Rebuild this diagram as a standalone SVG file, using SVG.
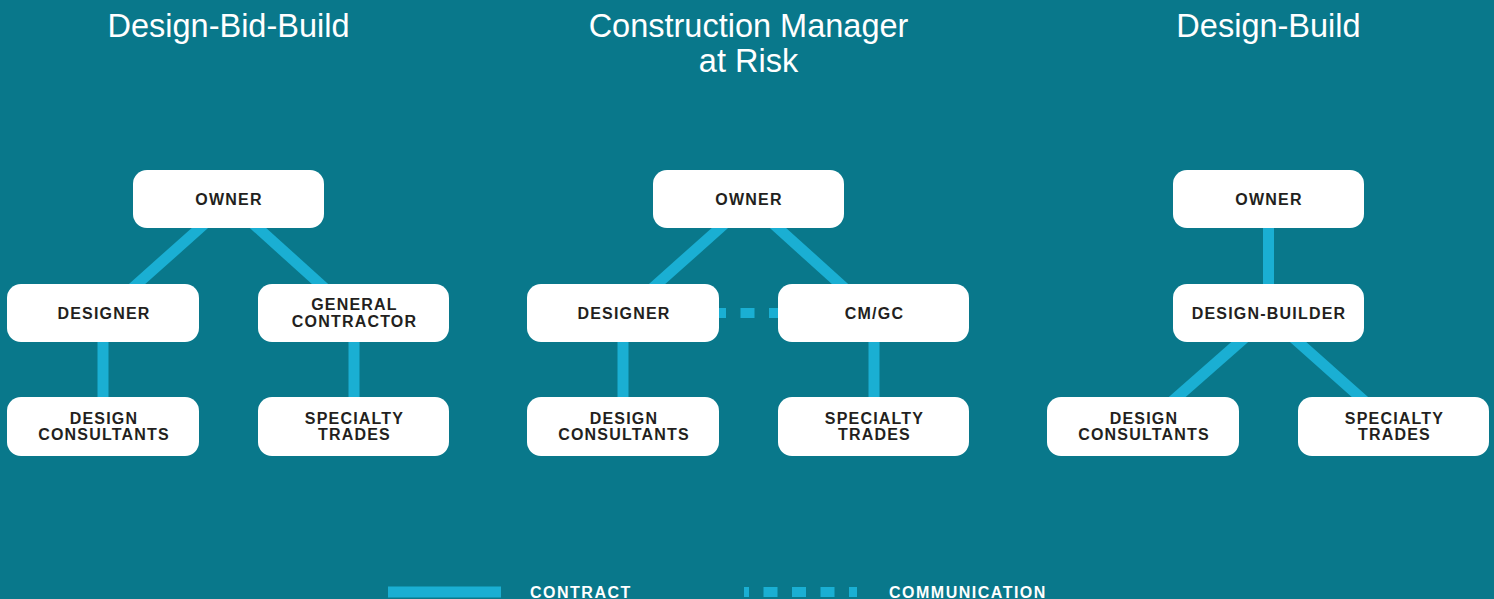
<svg xmlns="http://www.w3.org/2000/svg" width="1494" height="599" viewBox="0 0 1494 599">
<defs>
<style>
.bg{fill:#09788b}
.box{fill:#ffffff}
.lbl{font-family:"Liberation Sans",Arial,sans-serif;font-weight:bold;font-size:16px;letter-spacing:1.2px;fill:#231f20;text-anchor:middle}
.title{font-family:"Liberation Sans",Arial,sans-serif;font-size:32.5px;fill:#ffffff;text-anchor:middle}
.leg{font-family:"Liberation Sans",Arial,sans-serif;font-weight:bold;font-size:16px;letter-spacing:1.5px;fill:#ffffff}
.con{stroke:#1aafd3;stroke-width:11;fill:none}
.com{stroke:#1aafd3;stroke-width:10;fill:none;stroke-dasharray:14 14.5}
</style>
</defs>
<rect class="bg" x="0" y="0" width="1494" height="599"/>
<g id="titles">
<text class="title" x="228.5" y="37">Design-Bid-Build</text>
<text class="title" x="748.5" y="37">Construction Manager</text>
<text class="title" x="748.5" y="72">at Risk</text>
<text class="title" x="1268.5" y="37">Design-Build</text>
</g>
<g id="connectors">
<line class="con" x1="210" y1="219" x2="127" y2="293"/>
<line class="con" x1="248" y1="219" x2="330" y2="293"/>
<line class="con" x1="103" y1="330" x2="103" y2="410"/>
<line class="con" x1="354" y1="330" x2="354" y2="410"/>
<line class="con" x1="730" y1="219" x2="647" y2="293"/>
<line class="con" x1="768" y1="219" x2="850" y2="293"/>
<line class="con" x1="623" y1="330" x2="623" y2="410"/>
<line class="con" x1="874" y1="330" x2="874" y2="410"/>
<line class="com" x1="712" y1="313" x2="786" y2="313" style="stroke-dashoffset:0"/>
<line class="con" x1="1268.5" y1="220" x2="1268.5" y2="292"/>
<line class="con" x1="1250" y1="333" x2="1167" y2="406"/>
<line class="con" x1="1288" y1="333" x2="1370" y2="406"/>
</g>
<g id="dbb-owner"><rect class="box" x="133" y="170" width="191" height="58" rx="14"/><text class="lbl" x="229" y="205">OWNER</text></g>
<g id="dbb-designer"><rect class="box" x="7" y="284" width="192" height="58" rx="14"/><text class="lbl" x="104" y="319">DESIGNER</text></g>
<g id="dbb-gc"><rect class="box" x="258" y="284" width="191" height="58" rx="14"/><text class="lbl" x="354.5" y="310">GENERAL</text><text class="lbl" x="354.5" y="327">CONTRACTOR</text></g>
<g id="dbb-consultants"><rect class="box" x="7" y="397" width="192" height="59" rx="14"/><text class="lbl" x="104" y="424">DESIGN</text><text class="lbl" x="104" y="440">CONSULTANTS</text></g>
<g id="dbb-trades"><rect class="box" x="258" y="397" width="191" height="59" rx="14"/><text class="lbl" x="354.5" y="424">SPECIALTY</text><text class="lbl" x="354.5" y="440">TRADES</text></g>
<g id="cmar-owner"><rect class="box" x="653" y="170" width="191" height="58" rx="14"/><text class="lbl" x="749" y="205">OWNER</text></g>
<g id="cmar-designer"><rect class="box" x="527" y="284" width="192" height="58" rx="14"/><text class="lbl" x="624" y="319">DESIGNER</text></g>
<g id="cmar-cmgc"><rect class="box" x="778" y="284" width="191" height="58" rx="14"/><text class="lbl" x="874.5" y="319">CM/GC</text></g>
<g id="cmar-consultants"><rect class="box" x="527" y="397" width="192" height="59" rx="14"/><text class="lbl" x="624" y="424">DESIGN</text><text class="lbl" x="624" y="440">CONSULTANTS</text></g>
<g id="cmar-trades"><rect class="box" x="778" y="397" width="191" height="59" rx="14"/><text class="lbl" x="874.5" y="424">SPECIALTY</text><text class="lbl" x="874.5" y="440">TRADES</text></g>
<g id="db-owner"><rect class="box" x="1173" y="170" width="191" height="58" rx="14"/><text class="lbl" x="1269" y="205">OWNER</text></g>
<g id="db-builder"><rect class="box" x="1173" y="284" width="191" height="58" rx="14"/><text class="lbl" x="1269" y="319">DESIGN-BUILDER</text></g>
<g id="db-consultants"><rect class="box" x="1047" y="397" width="192" height="59" rx="14"/><text class="lbl" x="1144" y="424">DESIGN</text><text class="lbl" x="1144" y="440">CONSULTANTS</text></g>
<g id="db-trades"><rect class="box" x="1298" y="397" width="191" height="59" rx="14"/><text class="lbl" x="1394.5" y="424">SPECIALTY</text><text class="lbl" x="1394.5" y="440">TRADES</text></g>
<g id="legend">
<line class="con" x1="388" y1="592" x2="501" y2="592"/>
<text class="leg" x="530" y="598">CONTRACT</text>
<line class="com" x1="744" y1="592" x2="857" y2="592" style="stroke-dashoffset:9"/>
<text class="leg" x="889" y="598">COMMUNICATION</text>
</g>
</svg>
